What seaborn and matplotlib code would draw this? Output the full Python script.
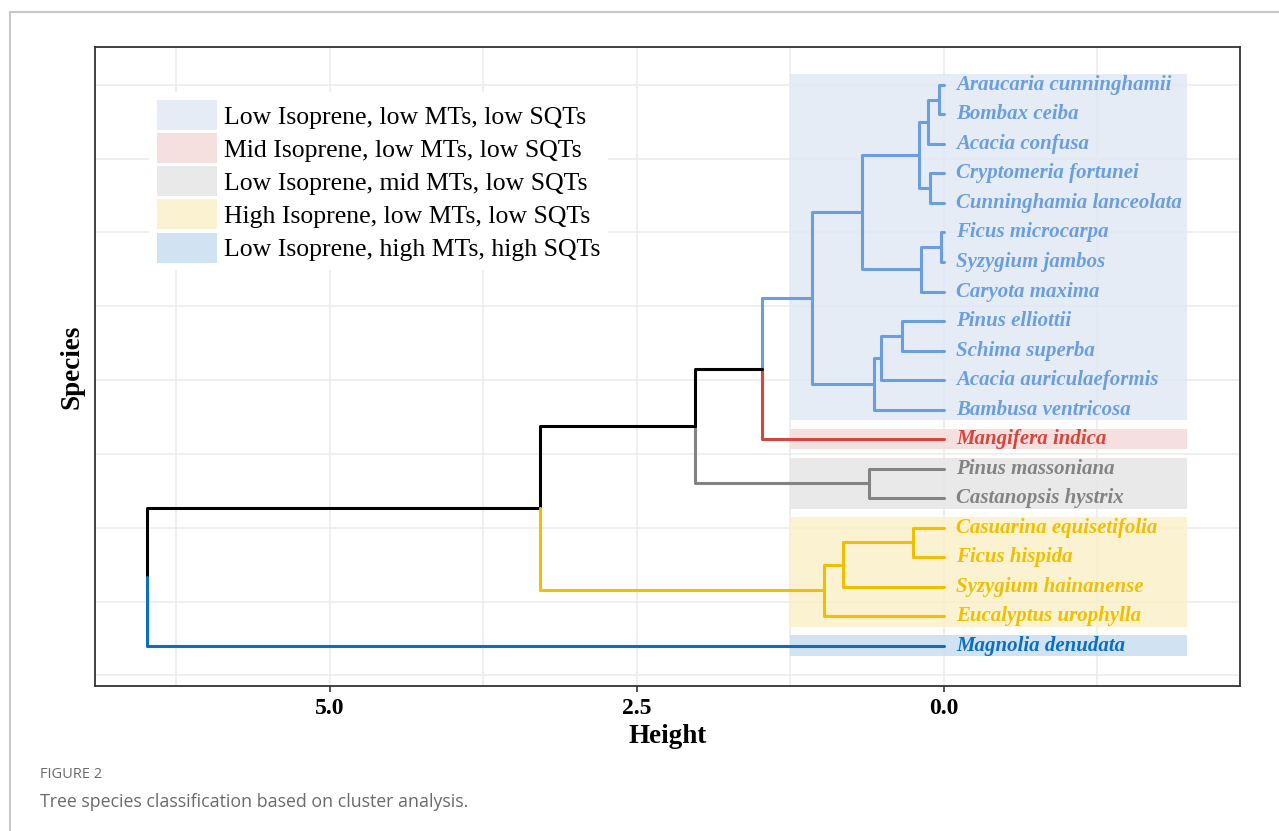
import numpy as np
import pandas as pd
import matplotlib
matplotlib.use("Agg")
import matplotlib.pyplot as plt
from matplotlib.patches import Patch, Rectangle
from matplotlib.lines import Line2D
import seaborn as sns

# leaves, top to bottom
species = ["Araucaria cunninghamii", "Bombax ceiba", "Acacia confusa",
           "Cryptomeria fortunei", "Cunninghamia lanceolata", "Ficus microcarpa",
           "Syzygium jambos", "Caryota maxima", "Pinus elliottii", "Schima superba",
           "Acacia auriculaeformis", "Bambusa ventricosa", "Mangifera indica",
           "Pinus massoniana", "Castanopsis hystrix", "Casuarina equisetifolia",
           "Ficus hispida", "Syzygium hainanense", "Eucalyptus urophylla",
           "Magnolia denudata"]
cluster = [1] * 12 + [2] + [3] * 2 + [4] * 4 + [5]

# merges (hierarchical clustering), heights
merge_left = ["Araucaria cunninghamii", "n1", "Cryptomeria fortunei", "n2",
              "Ficus microcarpa", "n5", "n4", "Pinus elliottii", "n8", "n9",
              "n7", "n11", "Pinus massoniana", "n12", "Casuarina equisetifolia",
              "n15", "n16", "n14", "n18"]
merge_right = ["Bombax ceiba", "Acacia confusa", "Cunninghamia lanceolata", "n3",
               "Syzygium jambos", "Caryota maxima", "n6", "Schima superba",
               "Acacia auriculaeformis", "Bambusa ventricosa", "n10",
               "Mangifera indica", "Castanopsis hystrix", "n13", "Ficus hispida",
               "Syzygium hainanense", "Eucalyptus urophylla", "n17",
               "Magnolia denudata"]
merge_height = [0.04, 0.13, 0.11, 0.20, 0.02, 0.19, 0.67, 0.34, 0.51, 0.57,
                1.07, 1.48, 0.61, 2.03, 0.25, 0.82, 0.98, 3.29, 6.49]

group_labels = ["Low Isoprene, low MTs, low SQTs", "Mid Isoprene, low MTs, low SQTs",
                "Low Isoprene, mid MTs, low SQTs", "High Isoprene, low MTs, low SQTs",
                "Low Isoprene, high MTs, high SQTs"]
line_colors = {1: "#6b9edc", 2: "#d6463d", 3: "#838383", 4: "#f0c000", 5: "#0a6fc4", 0: "#000000"}
box_colors = {1: "#e1e9f5", 2: "#f5dada", 3: "#e6e6e6", 4: "#fbf0c9", 5: "#c9dff1"}

# node positions
n = len(species)
ypos = {s: n - i for i, s in enumerate(species)}
hpos = {s: 0.0 for s in species}
grp = {s: c for s, c in zip(species, cluster)}
rows = []
for k, (a, b, h) in enumerate(zip(merge_left, merge_right, merge_height), start=1):
    node = f"n{k}"
    ypos[node] = (ypos[a] + ypos[b]) / 2
    hpos[node] = h
    grp[node] = grp[a] if grp[a] == grp[b] else 0
    for c in (a, b):
        seg = f"{node}-{c}"
        col = line_colors[grp[c]]
        rows += [(seg, hpos[c], ypos[c], col), (seg, h, ypos[c], col), (seg, h, ypos[node], col)]
segs = pd.DataFrame(rows, columns=["seg", "x", "y", "color"])

sns.set_theme(style="whitegrid")
plt.rcParams["font.family"] = ["Liberation Serif", "DejaVu Serif"]
plt.rcParams["text.color"] = "black"
plt.rcParams["axes.labelcolor"] = "black"
plt.rcParams["xtick.color"] = "black"

fig = plt.figure(figsize=(12.79, 8.31), dpi=100)
ax = fig.add_axes([0.0743, 0.1745, 0.8952, 0.7689])

# cluster boxes
for g in range(1, 6):
    ys = [ypos[s] for s, c in zip(species, cluster) if c == g]
    y0, y1 = min(ys) - 0.35, max(ys) + 0.35
    ax.add_patch(Rectangle((1.25, y0), -3.23, y1 - y0, facecolor=box_colors[g],
                           edgecolor="none", alpha=0.85, zorder=1))

sns.lineplot(data=segs, x="x", y="y", units="seg", hue="color",
             palette={c: c for c in segs["color"].unique()}, estimator=None,
             sort=False, legend=False, linewidth=2.2, ax=ax, zorder=3)

for s, c in zip(species, cluster):
    ax.text(-0.1, ypos[s], s, color=line_colors[c], fontsize=15, fontweight="bold",
            fontstyle="italic", ha="left", va="center", zorder=4)

ax.set_xlim(6.91, -2.41)
ax.set_ylim(-0.36, 21.28)
ax.set_xticks([5.0, 2.5, 0.0])
ax.set_xticklabels(["5.0", "2.5", "0.0"])
ax.set_xticks([6.25, 3.75, 1.25, -1.25], minor=True)
ax.set_yticks([0, 5, 10, 15, 20])
ax.set_yticks([2.5, 7.5, 12.5, 17.5], minor=True)
ax.set_yticklabels([])
ax.grid(True, which="both", color="#ebebeb", linewidth=1.1)
ax.set_axisbelow(True)
ax.tick_params(axis="x", which="major", length=4, width=1.2, color="#333333",
               labelsize=17, pad=5, bottom=True)
ax.tick_params(axis="y", which="both", length=0)
ax.tick_params(which="minor", length=0)
for lab in ax.get_xticklabels():
    lab.set_fontweight("bold")
for sp in ax.spines.values():
    sp.set_edgecolor("#333333")
    sp.set_linewidth(1.3)
ax.set_xlabel("Height", fontsize=19.5, fontweight="bold", labelpad=3)
ax.set_ylabel("Species", fontsize=19.5, fontweight="bold", labelpad=4)

handles = [Patch(facecolor=box_colors[g], edgecolor="none", alpha=0.85) for g in range(1, 6)]
leg = ax.legend(handles, group_labels, loc="upper left", bbox_to_anchor=(0.036, 0.949),
                fontsize=18.5, frameon=True, framealpha=1, facecolor="white",
                edgecolor="none", handlelength=2.33, handleheight=1.42,
                handletextpad=0.27, labelspacing=0.12, borderpad=0.3)
leg.set_zorder(5)

# page frame and caption
fig.add_artist(Line2D([10 / 1279, 1], [1 - 12 / 831, 1 - 12 / 831], color="#c8c8c8", linewidth=1.5))
fig.add_artist(Line2D([10 / 1279, 10 / 1279], [0, 1 - 12 / 831], color="#c8c8c8", linewidth=1.5))
fig.text(40 / 1279, 1 - 775 / 831, "FIGURE 2", fontsize=10.5, color="#6a6a6a",
         family=["Open Sans", "DejaVu Sans"], va="center")
fig.text(40 / 1279, 1 - 802 / 831, "Tree species classification based on cluster analysis.",
         fontsize=12.8, color="#6a6a6a", family=["Open Sans", "DejaVu Sans"], va="center")

fig.savefig("out.png", dpi=100)
